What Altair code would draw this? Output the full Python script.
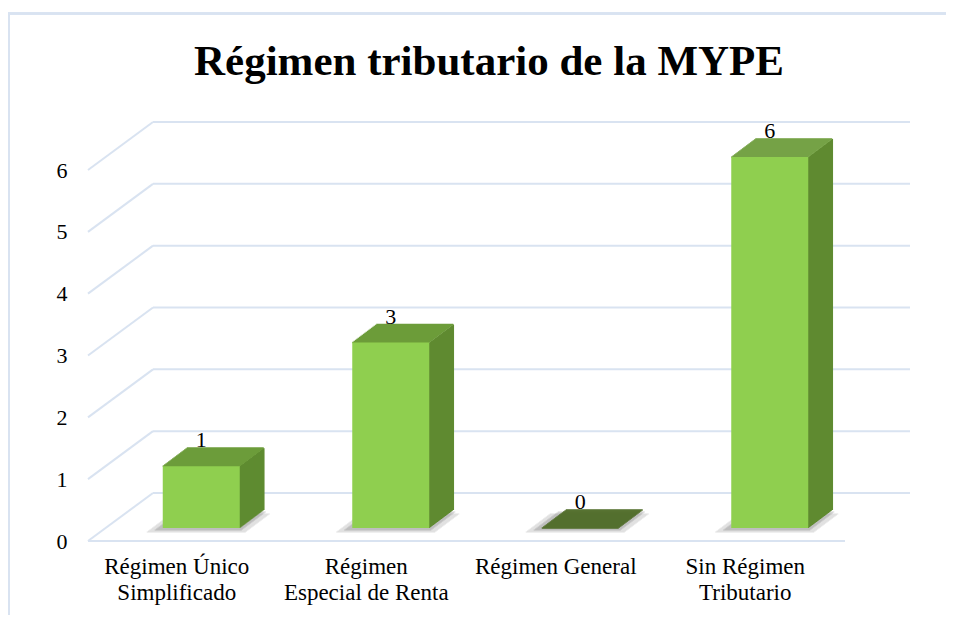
import altair as alt
import pandas as pd

# ---- data ----
categories = [
    "Régimen Único\nSimplificado",
    "Régimen\nEspecial de Renta",
    "Régimen General",
    "Sin Régimen\nTributario",
]
values = [1, 3, 0, 6]
levels = [0, 1, 2, 3, 4, 5, 6]
title_text = "Régimen tributario de la MYPE"

bars_df = pd.DataFrame({"cat": categories, "v": values})
grid_df = pd.DataFrame({"level": levels})
title_df = pd.DataFrame({"t": [title_text]})

# ---- geometry / style ----
PLOT_W, PLOT_H = 822, 371
FLOOR_W = 758
DEPTH_X, DEPTH_Y = 65, 48          # side-wall perspective offset
FRONT_DX, FRONT_DY = 18.5, 13      # bar front face offset into the floor
BOX_DX, BOX_DY = 24, 18            # bar depth
BAR_W = 77
FONT = "Liberation Serif"

GRID_C = "#D9E3F1"
FRONT_C = "#8FCF4F"
SIDE_C = "#5F8B31"
TOP_C = "#6C9C3A"
TOP_ZERO_C = "#4D6A25"

x_enc = alt.X(
    "cat:N",
    sort=categories,
    scale=alt.Scale(type="band", range=[0, FLOOR_W], paddingInner=0, paddingOuter=0),
    axis=alt.Axis(
        title=None,
        labelExpr="split(datum.value, '\\n')",
        labelFont=FONT,
        labelFontSize=23,
        labelColor="#000000",
        labelLineHeight=26,
        labelBaseline="top",
        labelPadding=14,
        labelOffset=-6,
        labelAngle=0,
        labelLimit=0,
        domain=False,
        ticks=False,
        grid=False,
    ),
)

y_axis = alt.Axis(
    title=None,
    values=levels,
    labelFont=FONT,
    labelFontSize=22,
    labelColor="#000000",
    labelPadding=21,
    domain=False,
    ticks=False,
    grid=False,
)
y_scale = alt.Scale(domain=[0, 6], nice=False, zero=True)

base_grid = alt.Chart(grid_df)
base = alt.Chart(bars_df)

layers = []

# outer chart frame (decoration)
layers.append(
    base_grid.mark_rule(color=GRID_C, strokeWidth=2).encode(
        x=alt.value(-80), x2=alt.value(870), y=alt.value(-156.5)
    )
)
layers.append(
    base_grid.mark_rule(color=GRID_C, strokeWidth=2).encode(
        x=alt.value(-79), y=alt.value(-157), y2=alt.value(460)
    )
)

# side-wall diagonals
layers.append(
    base_grid.mark_rule(color=GRID_C, strokeWidth=2, y2Offset=-DEPTH_Y).encode(
        x=alt.value(0), x2=alt.value(DEPTH_X),
        y=alt.Y("level:Q", scale=y_scale, axis=y_axis),
        y2=alt.Y2("level:Q"),
    )
)
# back-wall lines
layers.append(
    base_grid.mark_rule(color=GRID_C, strokeWidth=2, yOffset=-DEPTH_Y).encode(
        x=alt.value(DEPTH_X), x2=alt.value(PLOT_W),
        y=alt.Y("level:Q", scale=y_scale, axis=y_axis),
    )
)
# front floor edge
layers.append(
    base_grid.mark_rule(color=GRID_C, strokeWidth=2).encode(
        x=alt.value(0), x2=alt.value(FLOOR_W - 1),
        y=alt.datum(0, scale=y_scale, axis=y_axis),
    )
)

# soft shadow on the floor
N_TOP = 18
for k in range(N_TOP + 1):
    layers.append(
        base.mark_tick(
            orient="horizontal", size=BAR_W + 22, thickness=2,
            color="#7a7a7a", opacity=0.12,
            xOffset=FRONT_DX - 5 + k * BOX_DX / N_TOP,
            yOffset=-FRONT_DY + 4 - k * BOX_DY / N_TOP,
        ).encode(x=x_enc, y=alt.datum(0, scale=y_scale, axis=y_axis))
    )
    layers.append(
        base.mark_tick(
            orient="horizontal", size=BAR_W + 10, thickness=2,
            color="#7a7a7a", opacity=0.18,
            xOffset=FRONT_DX - 3 + k * BOX_DX / N_TOP,
            yOffset=-FRONT_DY + 2 - k * BOX_DY / N_TOP,
        ).encode(x=x_enc, y=alt.datum(0, scale=y_scale, axis=y_axis))
    )

# side faces of the bars
for j in range(BOX_DX + 1):
    off_y = -FRONT_DY - j * BOX_DY / BOX_DX
    layers.append(
        base.mark_rule(
            color=SIDE_C, strokeWidth=1.6, opacity=1,
            xOffset=FRONT_DX + BAR_W / 2 + j,
            yOffset=off_y, y2Offset=off_y,
        ).encode(
            x=x_enc,
            y=alt.Y("v:Q", scale=y_scale, axis=y_axis),
            y2=alt.datum(0),
        )
    )

# top faces of the bars
for k in range(N_TOP + 1):
    layers.append(
        base.mark_tick(
            orient="horizontal", size=BAR_W, thickness=1.6, opacity=1,
            xOffset=FRONT_DX + k * BOX_DX / N_TOP,
            yOffset=-FRONT_DY - k * BOX_DY / N_TOP,
        ).encode(
            x=x_enc,
            y=alt.Y("v:Q", scale=y_scale, axis=y_axis),
            color=alt.condition(alt.datum.v == 0, alt.value(TOP_ZERO_C), alt.value(TOP_C)),
        )
    )

# front faces
layers.append(
    base.mark_bar(
        size=BAR_W, color=FRONT_C, opacity=1,
        xOffset=FRONT_DX, yOffset=-FRONT_DY, y2Offset=-FRONT_DY,
    ).encode(
        x=x_enc,
        y=alt.Y("v:Q", scale=y_scale, axis=y_axis),
        y2=alt.datum(0),
    )
)

# data labels
layers.append(
    base.mark_text(
        font=FONT, fontSize=22, color="#000000", baseline="alphabetic",
        xOffset=FRONT_DX, yOffset=-32,
    ).encode(
        x=x_enc,
        y=alt.Y("v:Q", scale=y_scale, axis=y_axis),
        text=alt.Text("v:Q"),
    )
)

# title
layers.append(
    alt.Chart(title_df).mark_text(
        font=FONT, fontSize=43, fontWeight="bold", color="#000000",
        baseline="alphabetic", align="center",
    ).encode(x=alt.value(401), y=alt.value(-95), text="t:N")
)

chart = (
    alt.layer(*layers)
    .properties(
        width=PLOT_W,
        height=PLOT_H,
        padding={"left": 80, "top": 162, "right": 36, "bottom": 74},
        autosize=alt.AutoSizeParams(type="none"),
        background="#ffffff",
    )
    .configure_view(stroke=None)
)

chart.save("out.html", embed_options={"renderer": "svg", "actions": False})
